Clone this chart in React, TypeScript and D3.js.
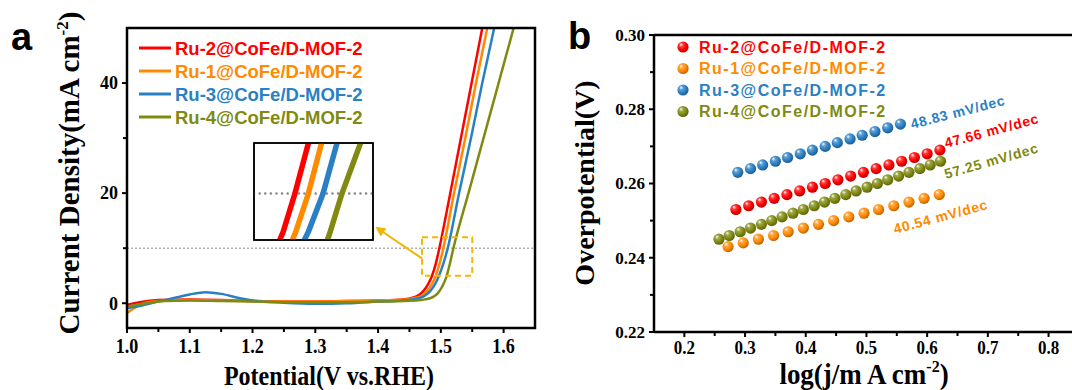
import React from 'react';
import * as d3 from 'd3';

const seriesNames = ['Ru-2@CoFe/D-MOF-2', 'Ru-1@CoFe/D-MOF-2', 'Ru-3@CoFe/D-MOF-2', 'Ru-4@CoFe/D-MOF-2'];
const seriesColors = ['#ff0000', '#ff8a00', '#2a80c4', '#808a10'];

// Panel a: LSV curves (potential V vs RHE, current density mA cm-2)
const ru2Potential = [1.0, 1.02, 1.05, 1.1, 1.15, 1.2, 1.25, 1.3, 1.35, 1.4, 1.44, 1.455, 1.465, 1.472, 1.48, 1.486, 1.492, 1.4976, 1.515, 1.532, 1.549, 1.566];
const ru2Current = [-0.3, 0.2, 0.6, 0.7, 0.6, 0.4, 0.3, 0.3, 0.4, 0.5, 0.7, 1.0, 1.5, 2.2, 3.5, 5.0, 7.2, 10, 20, 30, 40, 50];
const ru1Potential = [1.0, 1.01, 1.025, 1.05, 1.1, 1.15, 1.2, 1.25, 1.3, 1.35, 1.4, 1.445, 1.46, 1.47, 1.478, 1.486, 1.492, 1.498, 1.504, 1.521, 1.539, 1.556, 1.574];
const ru1Current = [-1.8, -1.0, -0.1, 0.4, 0.6, 0.5, 0.4, 0.3, 0.3, 0.4, 0.5, 0.7, 1.0, 1.4, 2.2, 3.5, 5.0, 7.2, 10, 20, 30, 40, 50];
const ru3Potential = [1.0, 1.02, 1.05, 1.08, 1.1, 1.125, 1.15, 1.18, 1.2, 1.25, 1.3, 1.35, 1.4, 1.45, 1.465, 1.475, 1.483, 1.491, 1.497, 1.504, 1.511, 1.529, 1.548, 1.566, 1.585];
const ru3Current = [-0.9, -0.5, 0.3, 1.1, 1.6, 2.0, 1.7, 0.9, 0.5, 0.1, -0.1, 0.0, 0.3, 0.6, 0.9, 1.4, 2.2, 3.5, 5.0, 7.2, 10, 20, 30, 40, 50];
const ru4Potential = [1.0, 1.03, 1.06, 1.1, 1.15, 1.2, 1.25, 1.3, 1.35, 1.4, 1.46, 1.475, 1.487, 1.495, 1.502, 1.508, 1.514, 1.52, 1.544, 1.568, 1.592, 1.616];
const ru4Current = [-0.6, 0.0, 0.4, 0.5, 0.4, 0.3, 0.2, 0.2, 0.2, 0.3, 0.5, 0.7, 1.1, 1.8, 3.0, 4.5, 7.0, 10, 20, 30, 40, 50];

const lsvXTicks = [1.0, 1.1, 1.2, 1.3, 1.4, 1.5, 1.6];
const lsvXMinor = [1.05, 1.15, 1.25, 1.35, 1.45, 1.55];
const lsvYTicks = [0, 20, 40];
const lsvYMinor = [10, 30];

// Panel b: Tafel plots (log j, overpotential V)
const ru2LogJ = [0.285, 0.306, 0.327, 0.348, 0.369, 0.39, 0.411, 0.432, 0.453, 0.474, 0.495, 0.516, 0.537, 0.558, 0.579, 0.6, 0.621];
const ru2Eta = [0.253, 0.254, 0.255, 0.256, 0.257, 0.258, 0.259, 0.26, 0.261, 0.262, 0.263, 0.264, 0.265, 0.266, 0.267, 0.268, 0.269];
const ru1LogJ = [0.272, 0.297, 0.322, 0.347, 0.371, 0.396, 0.421, 0.446, 0.471, 0.496, 0.52, 0.545, 0.57, 0.595, 0.62];
const ru1Eta = [0.243, 0.244, 0.245, 0.246, 0.247, 0.248, 0.249, 0.25, 0.251, 0.252, 0.253, 0.254, 0.255, 0.256, 0.257];
const ru3LogJ = [0.288, 0.309, 0.329, 0.35, 0.37, 0.391, 0.411, 0.432, 0.452, 0.473, 0.493, 0.514, 0.535, 0.556];
const ru3Eta = [0.263, 0.264, 0.265, 0.266, 0.267, 0.268, 0.269, 0.27, 0.271, 0.272, 0.273, 0.274, 0.275, 0.276];
const ru4LogJ = [0.257, 0.274, 0.292, 0.309, 0.327, 0.344, 0.361, 0.379, 0.396, 0.414, 0.431, 0.448, 0.466, 0.483, 0.501, 0.518, 0.535, 0.553, 0.57, 0.588, 0.605, 0.622];
const ru4Eta = [0.245, 0.246, 0.247, 0.248, 0.249, 0.25, 0.251, 0.252, 0.253, 0.254, 0.255, 0.256, 0.257, 0.258, 0.259, 0.26, 0.261, 0.262, 0.263, 0.264, 0.265, 0.266];
const tafelSlopes = ['47.66 mV/dec', '40.54 mV/dec', '48.83 mV/dec', '57.25 mV/dec'];

const tafelXTicks = [0.2, 0.3, 0.4, 0.5, 0.6, 0.7, 0.8];
const tafelXMinor = [0.25, 0.35, 0.45, 0.55, 0.65, 0.75];
const tafelYTicks = [0.22, 0.24, 0.26, 0.28, 0.3];
const tafelYMinor = [0.23, 0.25, 0.27, 0.29];

const lsv = [
  { p: ru2Potential, j: ru2Current },
  { p: ru1Potential, j: ru1Current },
  { p: ru3Potential, j: ru3Current },
  { p: ru4Potential, j: ru4Current },
];
const tafel = [
  { x: ru2LogJ, y: ru2Eta },
  { x: ru1LogJ, y: ru1Eta },
  { x: ru3LogJ, y: ru3Eta },
  { x: ru4LogJ, y: ru4Eta },
];

const SERIF = '"Liberation Serif", "Times New Roman", serif';
const SANS = '"Liberation Sans", Arial, sans-serif';

export default function App() {
  // Panel a geometry
  const aL = 127, aR = 535, aT = 28, aB = 328;
  const xA = d3.scaleLinear().domain([1.0, 1.65]).range([aL, aR]);
  const yA = d3.scaleLinear().domain([-4.5, 50]).range([aB, aT]);
  // inset (magnified view around 10 mA cm-2)
  const iL = 254, iR = 373, iT = 143, iB = 240;
  const xI = d3.scaleLinear().domain([1.4781, 1.5348]).range([iL, iR]);
  const yI = d3.scaleLinear().domain([6.6, 13.7]).range([iB, iT]);

  // Panel b geometry
  const bL = 654, bT = 35, bB = 332;
  const xB = d3.scaleLinear().domain([0.15, 0.85]).range([bL, bL + 0.7 * 607]);
  const yB = d3.scaleLinear().domain([0.22, 0.3]).range([bB, bT]);
  const bR = xB(0.85);

  const lineA = (s: { p: number[]; j: number[] }, xs: any, ys: any, curve: any) =>
    d3.line<number>().x((_, i) => xs(s.p[i])).y((_, i) => ys(s.j[i])).curve(curve)(s.p) || '';

  const slopeLabelPos = [
    { x: 946, y: 148, a: -15 },
    { x: 895, y: 234, a: -15 },
    { x: 912, y: 129, a: -14.5 },
    { x: 946, y: 179, a: -16 },
  ];
  const boxX0 = xA(1.47), boxX1 = xA(1.55), boxY0 = yA(12), boxY1 = yA(5);

  return (
    <svg width={1072} height={390} style={{ position: 'absolute', left: 0, top: 0, background: '#fff' }}>
      <defs>
        <clipPath id="clipA"><rect x={aL} y={aT} width={aR - aL} height={aB - aT} /></clipPath>
        <clipPath id="clipI"><rect x={iL} y={iT} width={iR - iL} height={iB - iT} /></clipPath>
        {seriesColors.map((c, i) => (
          <radialGradient key={i} id={`sph${i}`} cx="0.4" cy="0.38" r="0.62" fx="0.32" fy="0.28">
            <stop offset="0%" stopColor="#ffffff" />
            <stop offset="28%" stopColor={d3.interpolateRgb(c, '#ffffff')(0.25)} />
            <stop offset="65%" stopColor={c} />
            <stop offset="100%" stopColor={d3.color(c)!.darker(0.9).toString()} />
          </radialGradient>
        ))}
        <marker id="arrowHead" viewBox="0 0 10 10" refX="8" refY="5" markerWidth="5" markerHeight="5" orient="auto-start-reverse">
          <path d="M0,0 L10,5 L0,10 z" fill="#f2b600" />
        </marker>
      </defs>

      {/* ---------------- Panel a ---------------- */}
      <text x={11} y={50} fontFamily={SANS} fontWeight="bold" fontSize={38}>a</text>
      <g clipPath="url(#clipA)">
        <line x1={aL} x2={aR} y1={yA(10)} y2={yA(10)} stroke="#888" strokeWidth={1} strokeDasharray="2,2" />
        {lsv.map((s, i) => (
          <path key={i} d={lineA(s, xA, yA, d3.curveMonotoneX)} fill="none" stroke={seriesColors[i]} strokeWidth={2.5} />
        ))}
      </g>
      <rect x={boxX0} y={boxY0} width={boxX1 - boxX0} height={boxY1 - boxY0} fill="none" stroke="#f5b800" strokeWidth={2} strokeDasharray="6,4" />
      <line x1={boxX0} y1={(boxY0 + boxY1) / 2 + 2} x2={iR + 4} y2={iB - 12} stroke="#f2b600" strokeWidth={2} markerEnd="url(#arrowHead)" />
      {/* inset */}
      <rect x={iL} y={iT} width={iR - iL} height={iB - iT} fill="#fff" stroke="#000" strokeWidth={1.5} />
      <g clipPath="url(#clipI)">
        <line x1={iL} x2={iR} y1={yI(10)} y2={yI(10)} stroke="#888" strokeWidth={2.5} strokeDasharray="0.1,5.5" strokeLinecap="round" />
        {lsv.map((s, i) => (
          <path key={i} d={lineA(s, xI, yI, d3.curveLinear)} fill="none" stroke={seriesColors[i]} strokeWidth={5.5} />
        ))}
      </g>
      <rect x={iL} y={iT} width={iR - iL} height={iB - iT} fill="none" stroke="#000" strokeWidth={1.5} />
      {/* frame */}
      <rect x={aL} y={aT} width={aR - aL} height={aB - aT} fill="none" stroke="#000" strokeWidth={2.5} />
      {lsvXTicks.map((t) => (
        <g key={t}>
          <line x1={xA(t)} x2={xA(t)} y1={aB} y2={aB + 5} stroke="#000" strokeWidth={2} />
          <text transform={`translate(${xA(t)},${aB + 25}) scale(1,1.12)`} textAnchor="middle" fontFamily={SERIF} fontWeight="bold" fontSize={18}>{t.toFixed(1)}</text>
        </g>
      ))}
      {lsvXMinor.map((t) => (
        <line key={t} x1={xA(t)} x2={xA(t)} y1={aB} y2={aB + 4} stroke="#000" strokeWidth={2} />
      ))}
      {lsvYTicks.map((t) => (
        <g key={t}>
          <line x1={aL - 5} x2={aL} y1={yA(t)} y2={yA(t)} stroke="#000" strokeWidth={2} />
          <text x={aL - 9} y={yA(t)} dy="0.35em" textAnchor="end" fontFamily={SERIF} fontWeight="bold" fontSize={18}>{t}</text>
        </g>
      ))}
      {lsvYMinor.map((t) => (
        <line key={t} x1={aL - 4} x2={aL} y1={yA(t)} y2={yA(t)} stroke="#000" strokeWidth={2} />
      ))}
      <text transform={`translate(${(aL + aR) / 2 - 2},385) scale(1,1.15)`} textAnchor="middle" fontFamily={SERIF} fontWeight="bold" fontSize={24}>Potential(V vs.RHE)</text>
      <text transform={`translate(79,173) rotate(-90)`} textAnchor="middle" fontFamily={SERIF} fontWeight="bold" fontSize={29}>
        Current Density(mA cm<tspan dy={-11} fontSize={17}>-2</tspan><tspan dy={11}>)</tspan>
      </text>
      {/* legend a */}
      {seriesNames.map((n, i) => (
        <g key={n}>
          <line x1={139} x2={171} y1={48 + i * 23} y2={48 + i * 23} stroke={seriesColors[i]} strokeWidth={3} />
          <text x={175} y={48 + i * 23} dy="0.36em" fontFamily={SANS} fontWeight="bold" fontSize={18.5} fill={seriesColors[i]}>{n}</text>
        </g>
      ))}

      {/* ---------------- Panel b ---------------- */}
      <text x={568} y={49} fontFamily={SANS} fontWeight="bold" fontSize={38}>b</text>
      <line x1={bL} x2={bR} y1={bT} y2={bT} stroke="#000" strokeWidth={2.5} />
      <line x1={bL} x2={bR} y1={bB} y2={bB} stroke="#000" strokeWidth={2.5} />
      <line x1={bL} x2={bL} y1={bT} y2={bB} stroke="#000" strokeWidth={2.5} />
      {tafelXTicks.map((t) => (
        <g key={t}>
          <line x1={xB(t)} x2={xB(t)} y1={bB} y2={bB + 5} stroke="#000" strokeWidth={2} />
          <text transform={`translate(${xB(t)},${bB + 22}) scale(1,1.1)`} textAnchor="middle" fontFamily={SERIF} fontWeight="bold" fontSize={17}>{t.toFixed(1)}</text>
        </g>
      ))}
      {tafelXMinor.map((t) => (
        <line key={t} x1={xB(t)} x2={xB(t)} y1={bB} y2={bB + 4} stroke="#000" strokeWidth={2} />
      ))}
      {tafelYTicks.map((t) => (
        <g key={t}>
          <line x1={bL - 5} x2={bL} y1={yB(t)} y2={yB(t)} stroke="#000" strokeWidth={2} />
          <text x={bL - 9} y={yB(t)} dy="0.35em" textAnchor="end" fontFamily={SERIF} fontWeight="bold" fontSize={17}>{t.toFixed(2)}</text>
        </g>
      ))}
      {tafelYMinor.map((t) => (
        <line key={t} x1={bL - 4} x2={bL} y1={yB(t)} y2={yB(t)} stroke="#000" strokeWidth={2} />
      ))}
      <text transform={`translate(864,384) scale(1,1.1)`} textAnchor="middle" fontFamily={SERIF} fontWeight="bold" fontSize={27}>
        log(j/m A cm<tspan dy={-11} fontSize={16}>-2</tspan><tspan dy={11}>)</tspan>
      </text>
      <text transform={`translate(594,183) rotate(-90)`} textAnchor="middle" fontFamily={SERIF} fontWeight="bold" fontSize={28}>Overpotential(V)</text>
      {tafel.map((s, i) => (
        <g key={i}>
          {s.x.map((v, k) => (
            <circle key={k} cx={xB(v)} cy={yB(s.y[k])} r={5.6} fill={`url(#sph${i})`} />
          ))}
        </g>
      ))}
      {tafelSlopes.map((t, i) => (
        <text key={t} transform={`translate(${slopeLabelPos[i].x},${slopeLabelPos[i].y}) rotate(${slopeLabelPos[i].a})`} fontFamily={SANS} fontWeight="bold" fontSize={14} letterSpacing={0.7} fill={seriesColors[i]}>{t}</text>
      ))}
      {/* legend b */}
      {seriesNames.map((n, i) => (
        <g key={n}>
          <circle cx={683} cy={47 + i * 21.5} r={5.6} fill={`url(#sph${i})`} />
          <text x={699} y={47 + i * 21.5} dy="0.36em" fontFamily={SANS} fontWeight="bold" fontSize={16} letterSpacing={1.5} fill={seriesColors[i]}>{n}</text>
        </g>
      ))}
    </svg>
  );
}
